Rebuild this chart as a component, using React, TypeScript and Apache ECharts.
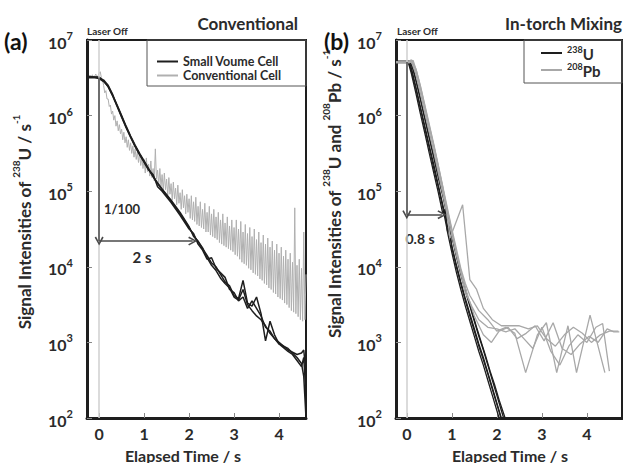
import React, { useEffect, useRef } from "react";
import * as echarts from "echarts";

// ---------- data: [elapsed time (s), log10(signal intensity / s^-1)] ----------
const xTickValues = [0, 1, 2, 3, 4];

// Panel (a) — Small volume cell (three repeated runs)
const smallCell1: [number, number][] = [
  [-0.27, 6.51], [-0.1, 6.51], [0, 6.5], [0.1, 6.47], [0.2, 6.4], [0.3, 6.28], [0.4, 6.13], [0.5, 5.99],
  [0.6, 5.85], [0.7, 5.72], [0.8, 5.6], [0.9, 5.49], [1.0, 5.39], [1.1, 5.29], [1.2, 5.19], [1.3, 5.1],
  [1.4, 5.02], [1.6, 4.87], [1.8, 4.7], [2.0, 4.52], [2.1, 4.42], [2.2, 4.33], [2.3, 4.24], [2.4, 4.15],
  [2.5, 4.05], [2.6, 4.0], [2.7, 3.9], [2.8, 3.8], [2.9, 3.75], [3.0, 3.62], [3.1, 3.58], [3.2, 3.82],
  [3.3, 3.52], [3.4, 3.48], [3.5, 3.6], [3.6, 3.38], [3.7, 3.02], [3.8, 3.28], [3.9, 3.1], [4.0, 2.98],
  [4.1, 2.95], [4.2, 2.92], [4.3, 2.86], [4.4, 2.8], [4.5, 2.72], [4.55, 2.55], [4.6, 2.0],
];
const smallCell2: [number, number][] = [
  [-0.27, 6.52], [-0.1, 6.51], [0, 6.51], [0.1, 6.46], [0.2, 6.38], [0.3, 6.26], [0.4, 6.12], [0.5, 5.98],
  [0.6, 5.84], [0.7, 5.71], [0.8, 5.59], [0.9, 5.48], [1.0, 5.38], [1.1, 5.28], [1.2, 5.22], [1.3, 5.06],
  [1.4, 5.0], [1.6, 4.85], [1.8, 4.68], [2.0, 4.5], [2.1, 4.44], [2.2, 4.3], [2.3, 4.22], [2.4, 4.1],
  [2.5, 4.12], [2.6, 3.98], [2.7, 3.92], [2.8, 3.86], [2.9, 3.7], [3.0, 3.66], [3.1, 3.55], [3.2, 3.6],
  [3.3, 3.45], [3.4, 3.55], [3.5, 3.45], [3.6, 3.35], [3.7, 3.2], [3.8, 3.15], [3.9, 3.05], [4.0, 3.0],
  [4.1, 2.95], [4.2, 2.9], [4.3, 2.87], [4.4, 2.84], [4.5, 2.86], [4.55, 2.9], [4.6, 2.6],
];
const smallCell3: [number, number][] = [
  [-0.27, 6.5], [-0.1, 6.5], [0, 6.49], [0.1, 6.45], [0.2, 6.39], [0.3, 6.27], [0.4, 6.14], [0.5, 6.0],
  [0.6, 5.86], [0.7, 5.73], [0.8, 5.61], [0.9, 5.5], [1.0, 5.4], [1.1, 5.3], [1.2, 5.2], [1.3, 5.11],
  [1.4, 5.03], [1.6, 4.88], [1.8, 4.72], [2.0, 4.53], [2.1, 4.4], [2.2, 4.34], [2.3, 4.25], [2.4, 4.12],
  [2.5, 4.02], [2.6, 3.95], [2.7, 3.85], [2.8, 3.78], [2.9, 3.72], [3.0, 3.6], [3.1, 3.56], [3.2, 3.7],
  [3.3, 3.5], [3.4, 3.42], [3.5, 3.35], [3.6, 3.3], [3.7, 3.22], [3.8, 3.12], [3.9, 3.05], [4.0, 2.98],
  [4.1, 2.93], [4.2, 2.88], [4.3, 2.84], [4.4, 2.76], [4.5, 2.68], [4.55, 2.8], [4.6, 2.3],
];

// Panel (a) — Conventional cell: noisy trace sampled every 0.025 s from -0.25 s
const convStartTime = -0.25;
const convDwell = 0.025;
const conventionalCell: number[] = [
  // -0.25 .. 0.00
  6.52, 6.5, 6.53, 6.51, 6.54, 6.5, 6.52, 6.55, 6.51, 6.53, 6.56,
  // 0.025 .. 1.00
  6.58, 6.5, 6.47, 6.4, 6.3, 6.33, 6.22, 6.22, 6.12, 6.14, 6.02, 6.06, 5.94, 6.0, 5.86, 5.93, 5.8, 5.88, 5.76, 5.82,
  5.68, 5.78, 5.64, 5.72, 5.58, 5.68, 5.54, 5.64, 5.5, 5.6, 5.45, 5.56, 5.42, 5.52, 5.38, 5.5, 5.34, 5.45, 5.3, 5.42,
  // 1.025 .. 2.00
  5.24, 5.44, 5.26, 5.36, 5.2, 5.4, 5.18, 5.3, 5.14, 5.56, 5.16, 5.28, 5.08, 5.3, 5.06, 5.22, 5.0, 5.24, 5.02, 5.16,
  4.94, 5.18, 4.96, 5.1, 4.88, 5.12, 4.9, 5.04, 4.82, 5.08, 4.84, 4.98, 4.76, 5.02, 4.78, 4.94, 4.7, 4.96, 4.72, 4.9,
  // 2.025 .. 3.00
  4.64, 4.94, 4.62, 4.86, 4.6, 4.92, 4.56, 4.8, 4.54, 4.86, 4.52, 4.76, 4.5, 4.84, 4.46, 4.72, 4.46, 4.8, 4.42, 4.7,
  4.4, 4.76, 4.38, 4.66, 4.36, 4.72, 4.32, 4.62, 4.3, 4.7, 4.28, 4.58, 4.26, 4.66, 4.24, 4.54, 4.22, 4.62, 4.2, 4.52,
  // 3.025 .. 4.60
  4.16, 4.62, 4.14, 4.5, 4.1, 4.6, 4.06, 4.46, 4.04, 4.56, 4.02, 4.44, 3.98, 4.52, 3.96, 4.4, 3.92, 4.5, 3.9, 4.36,
  3.88, 4.46, 3.84, 4.32, 3.82, 4.42, 3.78, 4.3, 3.76, 4.38, 3.72, 4.26, 3.7, 4.34, 3.66, 4.22, 3.64, 4.3, 3.6, 4.18,
  3.58, 4.26, 3.56, 4.14, 3.52, 4.22, 3.5, 4.1, 3.46, 4.18, 3.42, 4.06, 3.4, 4.78, 3.38, 4.02, 3.34, 4.1, 3.3, 3.98,
  3.28, 4.46, 3.3, 3.9,
];

// Panel (b) — 238U (five runs)
const u238Runs: [number, number][][] = [
  [[-0.24, 6.71], [0.05, 6.71], [0.1, 6.63], [0.2, 6.38], [0.3, 6.12], [0.4, 5.86], [0.5, 5.6], [0.6, 5.35],
   [0.7, 5.08], [0.8, 4.82], [0.9, 4.55], [1.0, 4.28], [1.1, 4.03], [1.2, 3.8], [1.3, 3.58], [1.4, 3.38],
   [1.5, 3.18], [1.6, 2.98], [1.7, 2.8], [1.8, 2.6], [1.9, 2.4], [2.0, 2.2], [2.1, 2.0], [2.2, 1.8]],
  [[-0.24, 6.71], [0.03, 6.71], [0.1, 6.56], [0.2, 6.3], [0.3, 6.03], [0.4, 5.77], [0.5, 5.5], [0.6, 5.24],
   [0.7, 4.98], [0.8, 4.7], [0.85, 4.76], [0.9, 4.47], [1.0, 4.19], [1.1, 3.93], [1.2, 3.7], [1.3, 3.48],
   [1.4, 3.28], [1.5, 3.08], [1.6, 2.88], [1.7, 2.7], [1.8, 2.5], [1.9, 2.3], [2.0, 2.1], [2.1, 1.9]],
  [[-0.24, 6.72], [0.06, 6.72], [0.12, 6.65], [0.2, 6.47], [0.3, 6.22], [0.4, 5.96], [0.5, 5.7], [0.6, 5.44],
   [0.7, 5.18], [0.8, 4.94], [0.9, 4.66], [1.0, 4.4], [1.1, 4.14], [1.2, 3.9], [1.3, 3.68], [1.4, 3.48],
   [1.5, 3.28], [1.6, 3.08], [1.7, 2.9], [1.8, 2.7], [1.9, 2.5], [2.0, 2.3], [2.1, 2.1], [2.2, 1.9]],
  [[-0.24, 6.7], [0.04, 6.7], [0.1, 6.6], [0.2, 6.36], [0.3, 6.1], [0.4, 5.83], [0.5, 5.57], [0.6, 5.3],
   [0.7, 5.05], [0.8, 4.78], [0.9, 4.48], [0.95, 4.52], [1.0, 4.25], [1.1, 4.0], [1.2, 3.77], [1.3, 3.55],
   [1.4, 3.35], [1.5, 3.15], [1.6, 2.95], [1.7, 2.77], [1.8, 2.58], [1.9, 2.38], [2.0, 2.18], [2.1, 1.98]],
  [[-0.24, 6.71], [0.07, 6.71], [0.15, 6.6], [0.25, 6.36], [0.35, 6.1], [0.45, 5.84], [0.55, 5.59], [0.65, 5.34],
   [0.75, 5.08], [0.85, 4.84], [0.95, 4.56], [1.05, 4.3], [1.15, 4.04], [1.25, 3.82], [1.35, 3.6], [1.45, 3.4],
   [1.55, 3.2], [1.65, 3.01], [1.75, 2.82], [1.85, 2.62], [1.95, 2.44], [2.05, 2.24], [2.15, 2.06], [2.25, 1.88]],
];

// Panel (b) — 208Pb (four runs)
const pb208Runs: [number, number][][] = [
  [[-0.24, 6.71], [0.05, 6.71], [0.1, 6.74], [0.2, 6.6], [0.3, 6.36], [0.4, 6.1], [0.5, 5.84], [0.6, 5.6],
   [0.7, 5.33], [0.8, 5.05], [0.9, 4.68], [0.96, 4.38], [1.24, 4.82], [1.4, 3.83], [1.55, 3.7], [1.7, 3.45],
   [1.9, 3.3], [2.1, 3.22], [2.3, 3.22], [2.5, 3.22], [2.7, 3.18], [2.9, 3.22], [3.1, 3.05], [3.3, 2.95],
   [3.5, 3.1], [3.7, 3.2], [3.9, 3.12], [4.1, 3.0], [4.3, 3.1], [4.5, 3.15], [4.7, 3.15]],
  [[-0.24, 6.7], [0.06, 6.7], [0.12, 6.72], [0.2, 6.62], [0.3, 6.4], [0.4, 6.14], [0.5, 5.88], [0.6, 5.62],
   [0.7, 5.34], [0.8, 5.06], [0.9, 4.78], [1.0, 4.5], [1.1, 4.24], [1.2, 3.98], [1.3, 3.78], [1.4, 3.62],
   [1.6, 3.42], [1.8, 3.3], [2.0, 3.15], [2.2, 3.2], [2.4, 3.12], [2.64, 2.6], [2.9, 3.1], [3.1, 3.26],
   [3.33, 2.6], [3.58, 3.22], [3.77, 2.6], [4.07, 3.36], [4.4, 2.6]],
  [[-0.24, 6.71], [0.08, 6.71], [0.14, 6.73], [0.22, 6.58], [0.32, 6.34], [0.42, 6.07], [0.52, 5.81], [0.62, 5.54],
   [0.72, 5.26], [0.82, 4.98], [0.92, 4.7], [1.02, 4.42], [1.12, 4.15], [1.22, 3.9], [1.32, 3.68], [1.5, 3.35],
   [1.7, 3.1], [1.88, 3.0], [2.05, 3.15], [2.25, 3.2], [2.45, 3.05], [2.65, 3.12], [2.85, 3.22], [3.05, 3.02],
   [3.25, 3.26], [3.45, 2.92], [3.65, 2.84], [3.85, 2.98], [4.05, 3.08], [4.25, 3.0], [4.45, 3.18], [4.6, 3.14],
   [4.72, 3.14]],
  [[-0.24, 6.7], [0.05, 6.7], [0.1, 6.72], [0.2, 6.55], [0.3, 6.3], [0.4, 6.04], [0.5, 5.78], [0.6, 5.52],
   [0.7, 5.24], [0.8, 4.96], [0.9, 4.68], [1.0, 4.42], [1.1, 4.16], [1.2, 3.92], [1.3, 3.66], [1.45, 3.47],
   [1.6, 3.3], [1.8, 3.2], [2.0, 3.18], [2.2, 3.14], [2.4, 3.18], [2.6, 3.05], [2.8, 2.92], [3.0, 3.2],
   [3.2, 2.88], [3.4, 2.7], [3.6, 2.95], [3.8, 3.1], [4.0, 3.0], [4.2, 3.2], [4.35, 3.25], [4.5, 2.62]],
];

// Annotations: arrow vertices [time, log10]
const laserOffTime = 0;
const arrowA: [number, number][] = [[0, 6.5], [0, 4.34], [2.08, 4.34]];
const arrowB: [number, number][] = [[0, 6.71], [0, 4.69], [0.78, 4.69]];

const toPts = (arr: [number, number][]) => arr.map(([t, e]) => [t, Math.pow(10, e)]);
const convPts = conventionalCell.map((e, i) => [+(convStartTime + i * convDwell).toFixed(3), Math.pow(10, e)]);

const FONT = "Lato, 'Open Sans', 'DejaVu Sans', sans-serif";
const TXT = "#2b2b2b";
const BLACK = "#1e1e1e";
const GRAY = "#a8a8a8";
const ARROW = "#4a4a4a";
const chevron = "path://M5,0 L10,9 L8.4,10 L5,3.4 L1.6,10 L0,9 Z";

function yAxisFor(gridIndex: number) {
  return {
    type: "log",
    logBase: 10,
    gridIndex,
    min: 100,
    max: 1e7,
    axisLine: { show: true, onZero: false, lineStyle: { color: BLACK, width: 3 } },
    axisTick: { show: true, inside: true, length: 5, lineStyle: { color: "#888", width: 1 } },
    minorTick: { show: false },
    splitLine: { show: false },
    axisLabel: {
      margin: 14,
      formatter: (v: number) => `{b|10}{s|${Math.round(Math.log10(v))}}`,
      rich: {
        b: { fontFamily: FONT, fontSize: 16, fontWeight: "bold", color: TXT, lineHeight: 20, verticalAlign: "bottom" },
        s: { fontFamily: FONT, fontSize: 11, fontWeight: "bold", color: TXT, lineHeight: 11, verticalAlign: "top" },
      },
    },
  };
}

function xAxisFor(gridIndex: number, min: number, max: number) {
  return {
    type: "value",
    gridIndex,
    min,
    max,
    axisLine: { show: true, onZero: false, lineStyle: { color: BLACK, width: 3 } },
    axisTick: { show: true, inside: true, length: 5, customValues: xTickValues, lineStyle: { color: "#888", width: 1 } },
    splitLine: { show: false },
    axisLabel: {
      customValues: xTickValues,
      margin: 7,
      fontFamily: FONT,
      fontSize: 16,
      fontWeight: "bold",
      color: TXT,
    },
  };
}

function lineSeries(name: string, data: any[], xi: number, color: string, width: number, extra: any = {}) {
  return {
    type: "line",
    name,
    xAxisIndex: xi,
    yAxisIndex: xi,
    data,
    showSymbol: false,
    symbol: "none",
    lineStyle: { color, width },
    itemStyle: { color },
    silent: true,
    ...extra,
  };
}

function laserMark() {
  return {
    silent: true,
    symbol: ["none", "none"],
    label: { show: false },
    lineStyle: { color: "#cfcfcf", width: 1.5, type: "solid" },
    data: [{ xAxis: laserOffTime }],
  };
}

function arrowMark(a: [number, number][]) {
  const p = a.map(([t, e]) => [t, Math.pow(10, e)]);
  return {
    silent: true,
    symbol: ["none", chevron],
    symbolSize: 9,
    label: { show: false },
    lineStyle: { color: ARROW, width: 1.5, type: "solid" },
    data: [
      [{ coord: p[0] }, { coord: p[1] }],
      [{ coord: p[1] }, { coord: p[2] }],
    ],
  };
}

const supRich = {
  n: { fontFamily: FONT, fontSize: 17, fontWeight: "bold", fill: TXT, color: TXT, lineHeight: 22, verticalAlign: "bottom" },
  s: { fontFamily: FONT, fontSize: 10, fontWeight: "bold", fill: TXT, color: TXT, lineHeight: 12, verticalAlign: "top" },
};

export default function App() {
  const ref = useRef<HTMLDivElement>(null);
  useEffect(() => {
    if (!ref.current) return;
    const chart = echarts.init(ref.current, null, { renderer: "svg" });
    const option: any = {
      animation: false,
      backgroundColor: "#ffffff",
      grid: [
        { left: 87, top: 40, width: 219, height: 378, show: true, borderColor: BLACK, borderWidth: 2, backgroundColor: "transparent" },
        { left: 396, top: 40, width: 226, height: 378, show: true, borderColor: BLACK, borderWidth: 2, backgroundColor: "transparent" },
      ],
      xAxis: [xAxisFor(0, -0.27, 4.6), xAxisFor(1, -0.24, 4.78)],
      yAxis: [yAxisFor(0), yAxisFor(1)],
      legend: [
        {
          data: ["Small Voume Cell", "Conventional Cell"],
          orient: "vertical",
          left: 157,
          top: 55,
          icon: "rect",
          itemWidth: 21,
          itemHeight: 2,
          itemGap: 1,
          padding: 0,
          selectedMode: false,
          textStyle: { fontFamily: FONT, fontSize: 12.5, fontWeight: "bold", color: TXT, lineHeight: 12 },
        },
        {
          data: ["238U", "208Pb"],
          orient: "vertical",
          left: 541,
          top: 45,
          icon: "rect",
          itemWidth: 21,
          itemHeight: 2,
          itemGap: 1,
          padding: 0,
          selectedMode: false,
          formatter: (name: string) => `{s|${name.replace(/[A-Za-z]+$/, "")}}{b|${name.replace(/^\d+/, "")}}`,
          textStyle: {
            color: TXT,
            rich: {
              s: { fontFamily: FONT, fontSize: 9, fontWeight: "bold", color: TXT, lineHeight: 9, verticalAlign: "top" },
              b: { fontFamily: FONT, fontSize: 15, fontWeight: "bold", color: TXT, lineHeight: 16, verticalAlign: "bottom" },
            },
          },
        },
      ],
      series: [
        lineSeries("Conventional Cell", convPts, 0, "#b0b0b0", 1, { markLine: laserMark() }),
        lineSeries("Small Voume Cell", toPts(smallCell1), 0, BLACK, 1.5, { markLine: arrowMark(arrowA) }),
        lineSeries("Small Voume Cell", toPts(smallCell2), 0, BLACK, 1.5),
        lineSeries("Small Voume Cell", toPts(smallCell3), 0, BLACK, 1.5),
        ...u238Runs.map((r, i) =>
          lineSeries("238U", toPts(r), 1, BLACK, 1.3, i === 0 ? { markLine: laserMark() } : {})
        ),
        ...pb208Runs.map((r, i) =>
          lineSeries("208Pb", toPts(r), 1, GRAY, 1.3, i === 0 ? { markLine: arrowMark(arrowB) } : {})
        ),
      ],
      graphic: [
        { type: "rect", shape: { x: 147, y: 40, width: 159, height: 46 }, style: { fill: "none", stroke: "#555", lineWidth: 1 }, silent: true, z: 5 },
        { type: "rect", shape: { x: 524, y: 40, width: 98, height: 43 }, style: { fill: "none", stroke: "#555", lineWidth: 1 }, silent: true, z: 5 },
        { type: "text", x: 4, y: 41, style: { text: "(a)", font: `bold 23px ${FONT}`, fill: "#111", align: "left", verticalAlign: "middle" } },
        { type: "text", x: 324, y: 41, style: { text: "(b)", font: `bold 23px ${FONT}`, fill: "#111", align: "left", verticalAlign: "middle" } },
        { type: "text", x: 298, y: 23, style: { text: "Conventional", font: `bold 17px ${FONT}`, fill: TXT, align: "right", verticalAlign: "middle" } },
        { type: "text", x: 622, y: 23, style: { text: "In-torch Mixing", font: `bold 17px ${FONT}`, fill: TXT, align: "right", verticalAlign: "middle" } },
        { type: "text", x: 87, y: 31, style: { text: "Laser Off", font: `bold 10px ${FONT}`, fill: TXT, align: "left", verticalAlign: "middle" } },
        { type: "text", x: 397, y: 31, style: { text: "Laser Off", font: `bold 10px ${FONT}`, fill: TXT, align: "left", verticalAlign: "middle" } },
        { type: "text", x: 183, y: 455, style: { text: "Elapsed Time / s", font: `bold 16px ${FONT}`, fill: TXT, align: "center", verticalAlign: "middle" } },
        { type: "text", x: 510, y: 455, style: { text: "Elapsed Time / s", font: `bold 16px ${FONT}`, fill: TXT, align: "center", verticalAlign: "middle" } },
        {
          type: "text", x: 22, y: 222, rotation: Math.PI / 2,
          style: { text: "{n|Signal Intensities of }{s|238}{n|U / s}{s|-1}", rich: supRich, align: "center", verticalAlign: "middle" },
        },
        {
          type: "text", x: 332, y: 194, rotation: Math.PI / 2,
          style: { text: "{n|Signal Intensities of }{s|238}{n|U and }{s|208}{n|Pb / s}{s|-1}", rich: supRich, align: "center", verticalAlign: "middle" },
        },
        { type: "text", x: 122, y: 209, style: { text: "1/100", font: `bold 13px ${FONT}`, fill: TXT, align: "center", verticalAlign: "middle" } },
        { type: "text", x: 142, y: 257, style: { text: "2 s", font: `bold 15px ${FONT}`, fill: TXT, align: "center", verticalAlign: "middle" } },
        { type: "text", x: 420, y: 238, style: { text: "0.8 s", font: `bold 14px ${FONT}`, fill: TXT, align: "center", verticalAlign: "middle" } },
      ],
    };
    chart.setOption(option);
    return () => chart.dispose();
  }, []);
  return <div ref={ref} style={{ position: "fixed", left: 0, top: 0, width: 623, height: 463 }} />;
}
